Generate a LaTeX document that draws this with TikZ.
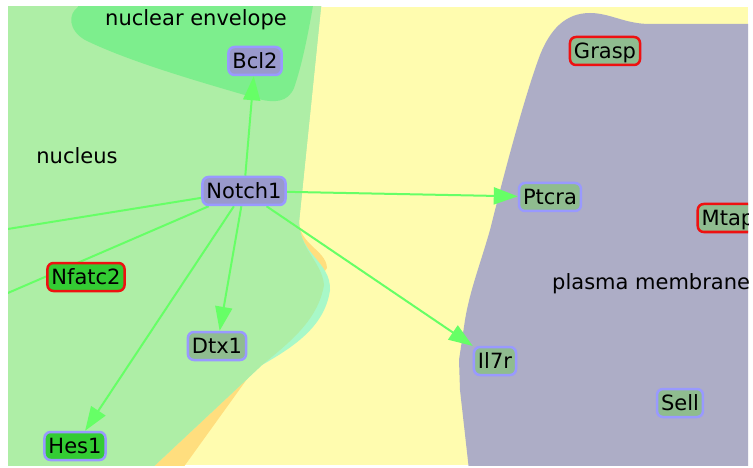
\documentclass[tikz,border=0pt]{standalone}
\usepackage{fontspec}
\setmainfont{DejaVu Sans}
\usetikzlibrary{arrows.meta}
\pgfdeclarelayer{bg}
\pgfdeclarelayer{edgelayer}
\pgfsetlayers{bg,edgelayer,main}
\definecolor{cyto}{HTML}{FFFCAF}
\definecolor{nucl}{HTML}{AEEEA6}
\definecolor{env}{HTML}{7DEE8D}
\definecolor{pm}{HTML}{ADADC6}
\definecolor{orng}{HTML}{FFDE7E}
\definecolor{mint}{HTML}{A8F8C8}
\definecolor{edgegreen}{HTML}{66FF66}
\definecolor{purplefill}{HTML}{9999CC}
\definecolor{blueline}{HTML}{9999FF}
\definecolor{sagefill}{HTML}{8FBC8F}
\definecolor{limefill}{HTML}{33CC33}
\definecolor{redline}{HTML}{EE1111}
\begin{document}
\begin{tikzpicture}[x=1pt,y=-1pt,
  font=\fontsize{21}{25}\selectfont,
  gene/.style={rounded corners=6pt, line width=2.5pt, inner xsep=4pt, inner ysep=0pt,
    minimum height=28pt, text height=15.5pt, text depth=0pt, draw=blueline, fill=sagefill},
  purplegene/.style={gene, fill=purplefill},
  limegene/.style={gene, fill=limefill},
  redgene/.style={gene, draw=redline},
  link/.style={draw=edgegreen, line width=2pt},
  arrowlink/.style={link, -{Triangle[length=24pt,width=17pt]}},
  comp/.style={inner sep=0pt}]
\useasboundingbox (0,0) rectangle (753,468);

\begin{pgfonlayer}{bg}
\fill[white] (0,0) rectangle (753,468);
\clip (8,7) rectangle (748,465);
\fill[cyto] (8,7) rectangle (748,465);
% orange rim
\fill[orng] (0,0) -- (322,0) -- (321,7) -- (299,222)
  .. controls (300,245) and (326,250) .. (327,268) -- (183,468) -- (0,468) -- cycle;
% mint rim
\fill[mint] (0,0) -- (322,0) -- (321,7) -- (299,222)
  .. controls (300,255) and (331,262) .. (330,290)
  .. controls (325,325) and (297,345) .. (262,365) -- (152,468) -- (0,468) -- cycle;
% nucleus
\fill[nucl] (0,0) -- (322,0) -- (321,7) -- (299,222)
  .. controls (300,250) and (322,262) .. (324,285)
  .. controls (318,320) and (290,342) .. (262,365) -- (152,468) -- (0,468) -- cycle;
% nuclear envelope
\fill[env] (80,0) -- (78,7) .. controls (68,14) and (68,30) .. (85,40)
  .. controls (130,62) and (200,82) .. (255,98)
  .. controls (275,104) and (288,102) .. (294,88)
  .. controls (302,65) and (308,35) .. (314,0) -- cycle;
% plasma membrane
\fill[pm] (760,24) -- (650,24) .. controls (625,24) and (610,13) .. (590,13)
  .. controls (565,13) and (550,30) .. (540,55)
  .. controls (525,95) and (505,170) .. (490,230)
  .. controls (480,265) and (470,290) .. (465,320)
  -- (459,360) -- (460,390) -- (469,470) -- (760,470) -- cycle;
\end{pgfonlayer}

\begin{scope}
\clip (8,7) rectangle (748,465);
\node[comp, anchor=base] (lenv) at (196,26) {nuclear envelope};
\node[comp, anchor=base] (lnuc) at (77,164) {nucleus};
\node[comp, anchor=base west] (lpm) at (552,289) {plasma membrane};

\node[purplegene] (bcl2) at (255,61) {Bcl2};
\node[purplegene] (notch1) at (244,191) {Notch1};
\node[redgene, fill=limefill] (nfatc2) at (86,277) {Nfatc2};
\node[gene] (dtx1) at (217,346) {Dtx1};
\node[limegene] (hes1) at (75,446) {Hes1};
\node[redgene] (grasp) at (605,51) {Grasp};
\node[gene] (ptcra) at (550,197) {Ptcra};
\node[redgene] (mtap) at (728,218) {Mtap};
\node[gene] (il7r) at (495,361) {Il7r};
\node[gene] (sell) at (680,403) {Sell};

\coordinate (offa) at (-50,238.3);
\coordinate (offb) at (-50,318);
\end{scope}

\begin{pgfonlayer}{edgelayer}
\clip (8,7) rectangle (748,465);
\draw[arrowlink] (notch1) -- (bcl2);
\draw[arrowlink] (notch1) -- (ptcra);
\draw[arrowlink] (notch1) -- (il7r);
\draw[arrowlink] (notch1) -- (dtx1);
\draw[arrowlink] (notch1) -- (hes1);
\draw[link] (notch1) -- (offa);
\draw[link] (notch1) -- (offb);
\end{pgfonlayer}
\end{tikzpicture}
\end{document}
